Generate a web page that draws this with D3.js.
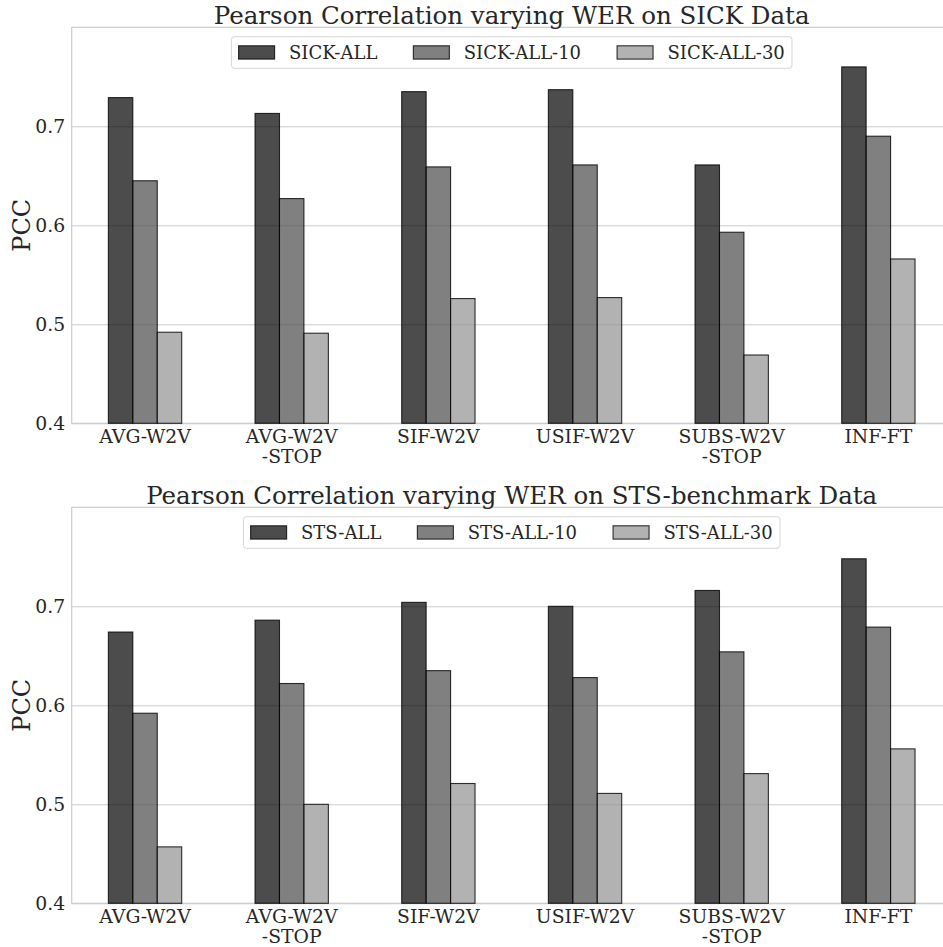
<!DOCTYPE html>
<html>
<head>
<meta charset="utf-8">
<script src="https://cdn.jsdelivr.net/npm/d3@7"></script>
<style>
  html, body { margin: 0; padding: 0; background: #fff; overflow: hidden; }
  svg { display: block; font-family: "DejaVu Serif", serif; }
</style>
</head>
<body>
<svg id="chart" width="943" height="947"></svg>
<script>
// Embedding methods compared on each dataset
const methods = ["AVG-W2V", "AVG-W2V\n-STOP", "SIF-W2V", "USIF-W2V", "SUBS-W2V\n-STOP", "INF-FT"];

// SICK data: Pearson correlation at each WER level
const sickSeries = ["SICK-ALL", "SICK-ALL-10", "SICK-ALL-30"];
const sickAll   = [0.729, 0.713, 0.735, 0.737, 0.661, 0.760];
const sickAll10 = [0.645, 0.627, 0.659, 0.661, 0.593, 0.690];
const sickAll30 = [0.492, 0.491, 0.526, 0.527, 0.469, 0.566];

// STS-benchmark data: Pearson correlation at each WER level
const stsSeries = ["STS-ALL", "STS-ALL-10", "STS-ALL-30"];
const stsAll   = [0.674, 0.686, 0.704, 0.700, 0.716, 0.748];
const stsAll10 = [0.592, 0.622, 0.635, 0.628, 0.654, 0.679];
const stsAll30 = [0.457, 0.500, 0.521, 0.511, 0.531, 0.556];

const yTicks = [0.4, 0.5, 0.6, 0.7];
const yDomain = [0.4, 0.8];

const fills = ["#000000", "#4a4a4a", "#929292"];
const textColor = "#262626";
const gridColor = "#cccccc";
const tickSize = 18.8;
const legendSize = 18;
const titleSize = 24.5;
const labelSize = 24;

const svg = d3.select("#chart");

const left = 71.7, right = 951.7;

function drawPanel(cfg) {
  const { top, bottom, title, names, values } = cfg;
  const g = svg.append("g");

  const x = d3.scaleBand().domain(methods.map((d, i) => i)).range([left, right]).paddingInner(0).paddingOuter(0);
  const bw = x.bandwidth();
  const xs = d3.scaleBand().domain(names).range([bw * 0.25, bw * 0.75]).padding(0);
  const y = d3.scaleLinear().domain(yDomain).range([bottom, top]);

  // horizontal grid
  const yAxis = d3.axisLeft(y).tickValues(yTicks).tickSize(-(right - left)).tickPadding(6).tickFormat(d3.format(".1f"));
  const ga = g.append("g").attr("transform", `translate(${left},0)`).call(yAxis);
  ga.select(".domain").remove();
  ga.selectAll(".tick line").attr("stroke", gridColor).attr("stroke-width", 1);
  ga.selectAll(".tick text").attr("fill", textColor).attr("font-size", tickSize).attr("font-family", "DejaVu Serif").attr("x", -6.5);

  // frame
  g.append("rect").attr("x", left).attr("y", top).attr("width", right - left).attr("height", bottom - top)
    .attr("fill", "none").attr("stroke", gridColor).attr("stroke-width", 1.2);

  // bars
  names.forEach((name, j) => {
    g.append("g").selectAll("rect").data(values[j]).join("rect")
      .attr("x", (d, i) => x(i) + xs(name))
      .attr("width", xs.bandwidth())
      .attr("y", d => y(d))
      .attr("height", d => y(yDomain[0]) - y(d))
      .attr("fill", fills[j]).attr("fill-opacity", 0.7)
      .attr("stroke", "#000").attr("stroke-opacity", 0.8).attr("stroke-width", 1.1);
  });

  // category labels (multi-line)
  const xl = g.append("g");
  methods.forEach((m, i) => {
    const t = xl.append("text").attr("text-anchor", "middle").attr("fill", textColor)
      .attr("font-size", tickSize).attr("x", x(i) + bw / 2).attr("y", bottom + 20);
    m.split("\n").forEach((line, k) => {
      t.append("tspan").attr("x", x(i) + bw / 2).attr("dy", k === 0 ? 0 : 20).text(line);
    });
  });

  // y label
  g.append("text").attr("transform", `translate(${29.5},${(top + bottom) / 2}) rotate(-90)`)
    .attr("text-anchor", "middle").attr("fill", textColor).attr("font-size", labelSize).text("PCC");

  // title
  g.append("text").attr("x", (left + right) / 2).attr("y", top - 3.5).attr("text-anchor", "middle")
    .attr("fill", textColor).attr("font-size", titleSize).text(title);

  // legend
  const fs = legendSize;
  const lg = g.append("g");
  const box = lg.append("rect");
  let cx = 0;
  names.forEach((name, j) => {
    lg.append("rect").attr("x", cx).attr("y", -6.7).attr("width", 2.0 * fs).attr("height", 13.3)
      .attr("fill", fills[j]).attr("fill-opacity", 0.7).attr("stroke", "#000").attr("stroke-opacity", 0.8).attr("stroke-width", 1.1);
    cx += 2.0 * fs + 0.8 * fs;
    const t = lg.append("text").attr("x", cx).attr("y", 6).attr("fill", textColor).attr("font-size", fs).text(name);
    cx += t.node().getComputedTextLength();
    if (j < names.length - 1) cx += 2 * fs;
  });
  const pad = 0.4 * fs;
  const w = cx + 2 * pad;
  box.attr("x", -pad).attr("y", -15.8).attr("width", w).attr("height", 31.6).attr("rx", 3)
    .attr("fill", "#fff").attr("fill-opacity", 0.8).attr("stroke", "#d6d6d6").attr("stroke-width", 1);
  lg.attr("transform", `translate(${(left + right) / 2 - w / 2 + pad},${top + 25.2})`);
}

drawPanel({
  top: 27.3, bottom: 423.3,
  title: "Pearson Correlation varying WER on SICK Data",
  names: sickSeries, values: [sickAll, sickAll10, sickAll30]
});

drawPanel({
  top: 507.3, bottom: 903.3,
  title: "Pearson Correlation varying WER on STS-benchmark Data",
  names: stsSeries, values: [stsAll, stsAll10, stsAll30]
});
</script>
</body>
</html>
